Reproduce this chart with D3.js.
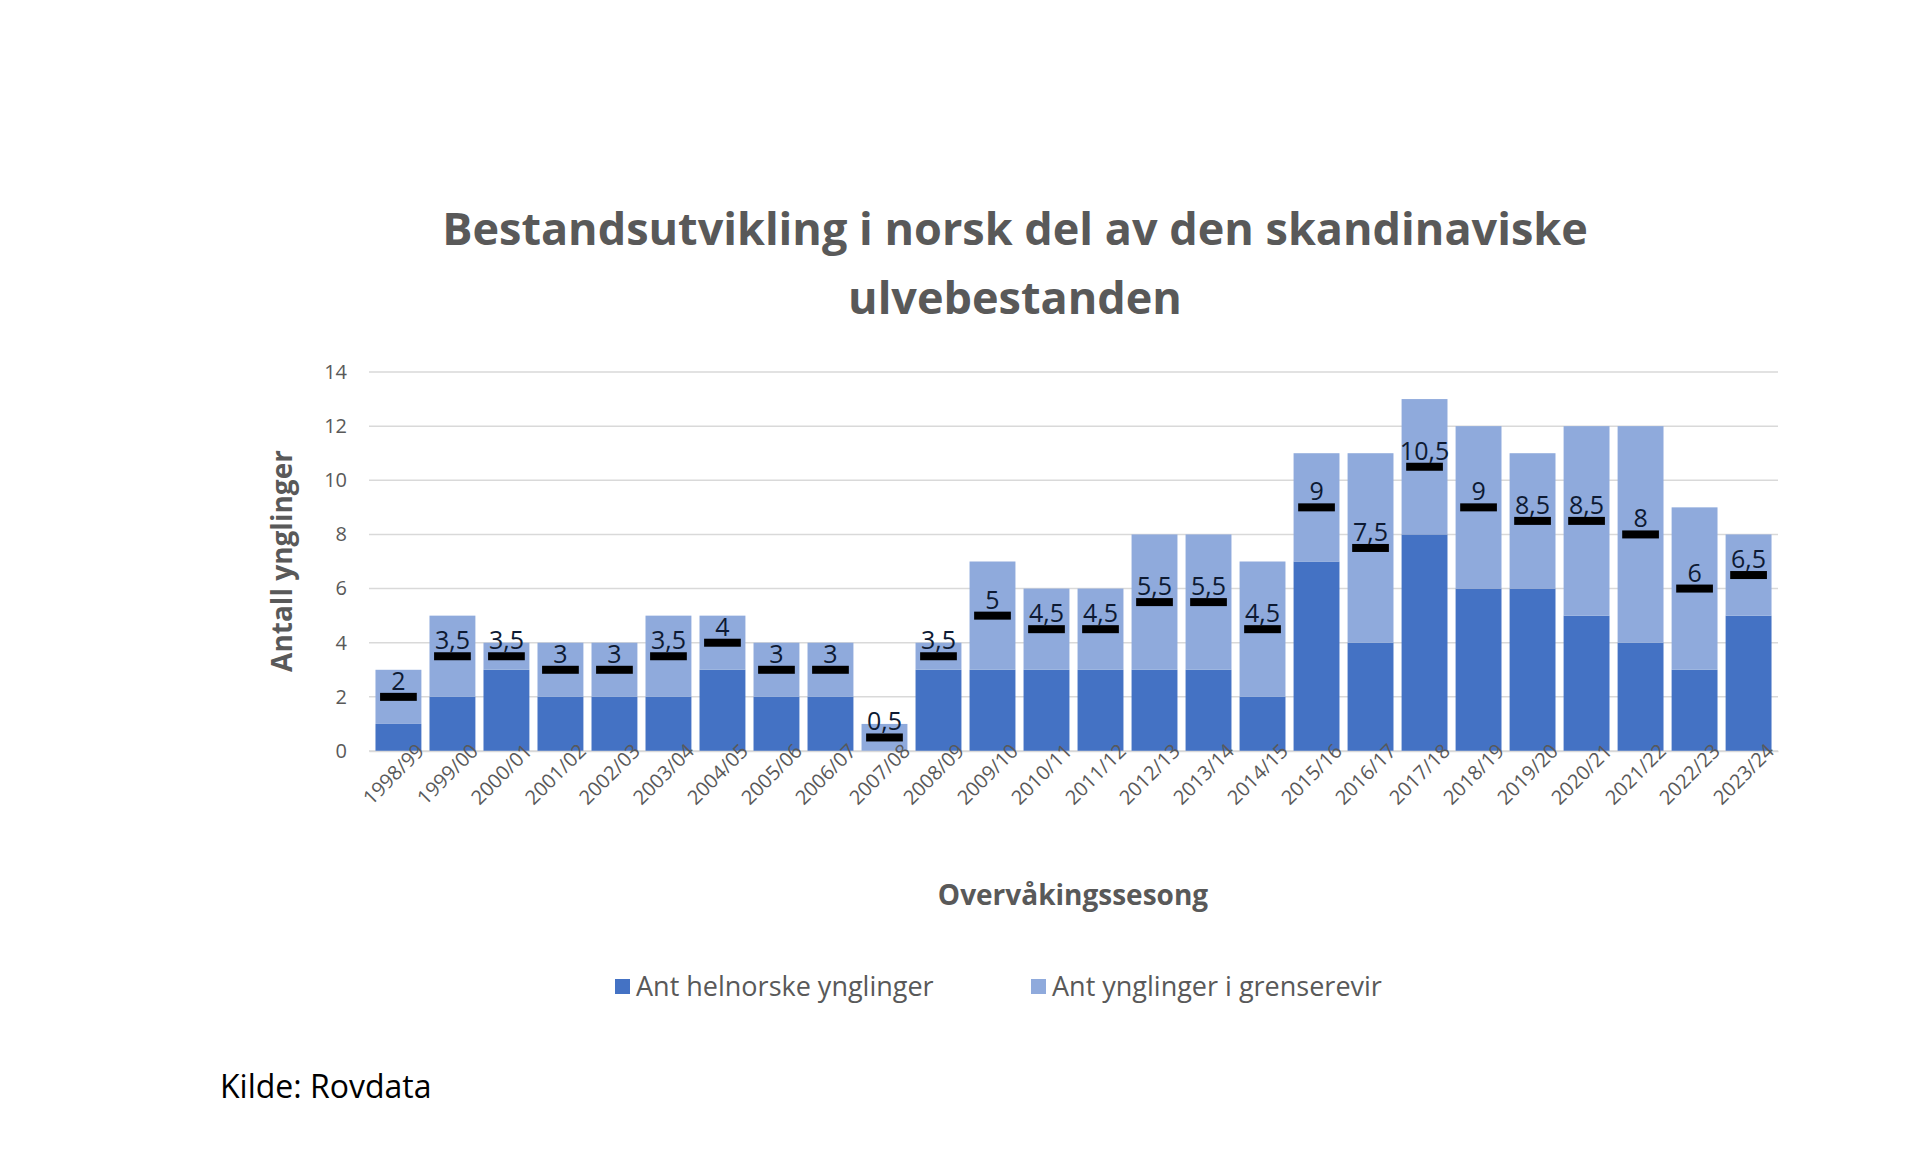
<!DOCTYPE html>
<html><head><meta charset="utf-8">
<script src="https://cdn.jsdelivr.net/npm/d3@7"></script>
<style>body{margin:0;background:#fff;font-family:"Open Sans",sans-serif}</style>
</head><body>
<script>
// data
var seasons = ["1998/99","1999/00","2000/01","2001/02","2002/03","2003/04","2004/05","2005/06","2006/07","2007/08","2008/09","2009/10","2010/11","2011/12","2012/13","2013/14","2014/15","2015/16","2016/17","2017/18","2018/19","2019/20","2020/21","2021/22","2022/23","2023/24"];
var helnorske = [1,2,3,2,2,2,3,2,2,0,3,3,3,3,3,3,2,7,4,8,6,6,5,4,3,5];
var grenserevir = [2,3,1,2,2,3,2,2,2,1,1,4,3,3,5,5,5,4,7,5,6,5,7,8,6,3];
var bestand = [2,3.5,3.5,3,3,3.5,4,3,3,0.5,3.5,5,4.5,4.5,5.5,5.5,4.5,9,7.5,10.5,9,8.5,8.5,8,6,6.5];
var yTicks = [0,2,4,6,8,10,12,14];

var W = 1920, H = 1165;
var margin = {top: 372, left: 369, right: W - 1778, bottom: H - 751};
var width = W - margin.left - margin.right, height = H - margin.top - margin.bottom;

var svg = d3.select("body").append("svg").attr("width", W).attr("height", H);

// title
svg.append("text").attr("x", 1015).attr("y", 245).attr("text-anchor", "middle")
  .attr("font-size", 45).attr("font-weight", "bold").attr("fill", "#595959")
  .text("Bestandsutvikling i norsk del av den skandinaviske");
svg.append("text").attr("x", 1015).attr("y", 314).attr("text-anchor", "middle")
  .attr("font-size", 45).attr("font-weight", "bold").attr("fill", "#595959")
  .text("ulvebestanden");

var g = svg.append("g").attr("transform", "translate(" + margin.left + "," + margin.top + ")");

var x = d3.scaleBand().domain(seasons).range([0, width]).paddingInner(0.15).paddingOuter(0.12);
var y = d3.scaleLinear().domain([0, 14]).range([height, 0]);

// gridlines
g.selectAll(".grid").data(yTicks).enter().append("line")
  .attr("x1", 0).attr("x2", width)
  .attr("y1", function(d){ return y(d); }).attr("y2", function(d){ return y(d); })
  .attr("stroke", "#d9d9d9").attr("stroke-width", 1.5);

// y axis
var yAxis = g.append("g").call(d3.axisLeft(y).tickValues(yTicks).tickSize(0).tickPadding(22));
yAxis.select(".domain").remove();
yAxis.selectAll("text").attr("font-size", 20).attr("fill", "#595959").attr("font-family", "Open Sans");

// stacked bars
var stack = seasons.map(function(s, i){ return {s: s, a: helnorske[i], b: grenserevir[i]}; });
g.selectAll(".dark").data(stack).enter().append("rect")
  .attr("x", function(d){ return x(d.s); }).attr("width", x.bandwidth())
  .attr("y", function(d){ return y(d.a); }).attr("height", function(d){ return y(0) - y(d.a); })
  .attr("fill", "#4472C4");
g.selectAll(".light").data(stack).enter().append("rect")
  .attr("x", function(d){ return x(d.s); }).attr("width", x.bandwidth())
  .attr("y", function(d){ return y(d.a + d.b); }).attr("height", function(d){ return y(d.a) - y(d.a + d.b); })
  .attr("fill", "#8FAADC");

// markers for bestand
var mw = x.bandwidth() * 0.8;
g.selectAll(".mark").data(bestand).enter().append("rect")
  .attr("x", function(d, i){ return x(seasons[i]) + (x.bandwidth() - mw) / 2; })
  .attr("y", function(d){ return y(d) - 4; })
  .attr("width", mw).attr("height", 8).attr("fill", "#000");
g.selectAll(".mlabel").data(bestand).enter().append("text")
  .attr("x", function(d, i){ return x(seasons[i]) + x.bandwidth() / 2; })
  .attr("y", function(d){ return y(d) - 7; })
  .attr("text-anchor", "middle").attr("font-size", 25).attr("fill", "#0d1a33")
  .text(function(d){ return String(d).replace(".", ","); });

// x axis
var xAxis = g.append("g").attr("transform", "translate(0," + height + ")")
  .call(d3.axisBottom(x).tickSize(0).tickPadding(8));
xAxis.select(".domain").attr("stroke", "#d9d9d9").attr("stroke-width", 1.5);
xAxis.selectAll("text").attr("font-size", 20).attr("fill", "#595959").attr("font-family", "Open Sans")
  .attr("text-anchor", "end").attr("dx", "0.9em").attr("dy", "0.6em").attr("transform", "rotate(-45)");

// axis titles
svg.append("text").attr("x", 1073).attr("y", 905).attr("text-anchor", "middle")
  .attr("font-size", 28).attr("font-weight", "bold").attr("fill", "#595959").text("Overvåkingssesong");
svg.append("text").attr("transform", "translate(292,561) rotate(-90)").attr("text-anchor", "middle")
  .attr("font-size", 28).attr("font-weight", "bold").attr("fill", "#595959").text("Antall ynglinger");

// legend
var legend = [["Ant helnorske ynglinger", "#4472C4", 615], ["Ant ynglinger i grenserevir", "#8FAADC", 1031]];
legend.forEach(function(l){
  svg.append("rect").attr("x", l[2]).attr("y", 979).attr("width", 15).attr("height", 15).attr("fill", l[1]);
  svg.append("text").attr("x", l[2] + 21).attr("y", 996).attr("font-size", 27).attr("fill", "#595959").text(l[0]);
});

// source
svg.append("text").attr("x", 220).attr("y", 1098).attr("font-size", 32).attr("fill", "#000").text("Kilde: Rovdata");
</script>
</body></html>
